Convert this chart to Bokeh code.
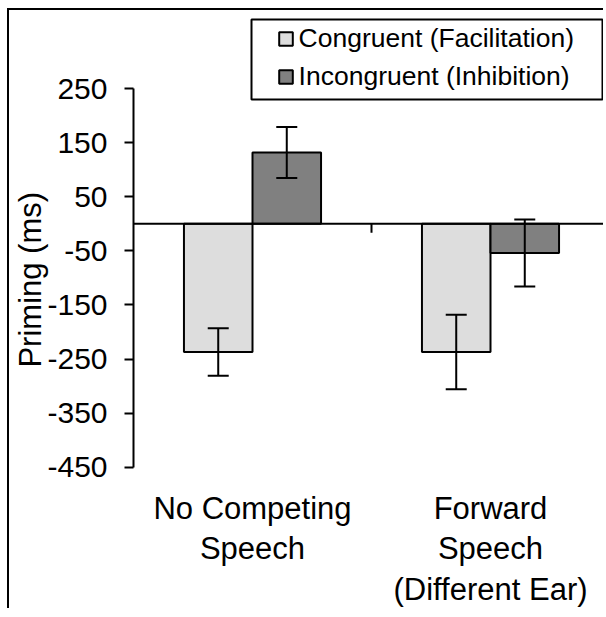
from bokeh.plotting import figure
from bokeh.models import (ColumnDataSource, FixedTicker, Span, Whisker, TeeHead,
                          Legend, LegendItem, BoxAnnotation, Range1d)
from bokeh.embed import file_html
from bokeh.resources import INLINE

# ---- data ----
categories = ["No Competing\nSpeech", "Forward\nSpeech\n(Different Ear)"]
series = ["Congruent (Facilitation)", "Incongruent (Inhibition)"]
congruent = [-237, -237]
congruent_err = [44, 69]
incongruent = [132, -54]
incongruent_err = [47, 62]
y_ticks = [-450, -350, -250, -150, -50, 50, 150, 250]
y_title = "Priming (ms)"

# ---- layout / style ----
FONT = "Liberation Sans"
W, H = 596, 600
BAR_W = 0.288
Y_START, Y_END = -457.9, 394.5
MB_LEFT, MB_BOTTOM, MB_RIGHT = 124, 138, 0
CAT_PX = 238
X_END = (W - MB_LEFT - MB_RIGHT) / CAT_PX
FRAME_H = H - MB_BOTTOM
PX_PER_UNIT = FRAME_H / (Y_END - Y_START)
# the axis title is centred on the axis extent (not on the whole frame)
TITLE_PAD = "\u00a0" * 9

centers = [i + 0.5 for i in range(len(categories))]
boundaries = list(range(1, len(categories)))


def src(vals, errs, offset):
    return ColumnDataSource(dict(
        x=[c + offset for c in centers],
        top=vals,
        upper=[v + e for v, e in zip(vals, errs)],
        lower=[v - e for v, e in zip(vals, errs)],
    ))


src_c = src(congruent, congruent_err, -BAR_W / 2)
src_i = src(incongruent, incongruent_err, BAR_W / 2)

p = figure(width=W, height=H, title=None,
           x_range=Range1d(0, X_END), y_range=Range1d(Y_START, Y_END),
           output_backend="svg", toolbar_location=None,
           min_border_left=MB_LEFT, min_border_right=MB_RIGHT,
           min_border_top=0, min_border_bottom=MB_BOTTOM)
p.styles = {"margin-left": "7px", "margin-top": "8px", "vertical-align": "top",
            "border-left": "2px solid black", "border-top": "2px solid black"}
p.background_fill_color = "white"
p.border_fill_color = "white"
p.outline_line_color = None
p.xgrid.grid_line_color = None
p.ygrid.grid_line_color = None

r_c = p.vbar(x="x", top="top", bottom=0, width=BAR_W, source=src_c,
             fill_color="#DDDDDD", line_color="black", line_width=2)
r_i = p.vbar(x="x", top="top", bottom=0, width=BAR_W, source=src_i,
             fill_color="#808080", line_color="black", line_width=2)

for s in (src_c, src_i):
    p.add_layout(Whisker(source=s, base="x", upper="upper", lower="lower",
                         line_width=2, line_color="black", level="overlay",
                         upper_head=TeeHead(size=21, line_width=2, line_color="black"),
                         lower_head=TeeHead(size=21, line_width=2, line_color="black")))

p.add_layout(Span(location=0, dimension="width", line_color="black", line_width=2))
tick_len = 9 / PX_PER_UNIT
p.segment(x0=boundaries, y0=[0] * len(boundaries), x1=boundaries,
          y1=[-tick_len] * len(boundaries), line_color="black", line_width=2)

# y axis
ya = p.yaxis[0]
ya.ticker = FixedTicker(ticks=y_ticks)
ya.major_label_overrides = {t: str(t) for t in y_ticks}
ya.bounds = (min(y_ticks), max(y_ticks))
ya.major_tick_out = 9
ya.major_tick_in = 0
ya.minor_tick_out = 0
ya.minor_tick_in = 0
ya.axis_line_width = 2
ya.major_tick_line_width = 2
ya.major_label_text_font = FONT
ya.major_label_text_font_size = "30px"
ya.major_label_text_color = "black"
ya.major_label_standoff = 17
ya.axis_label = y_title + TITLE_PAD
ya.axis_label_text_font = FONT
ya.axis_label_text_font_size = "31px"
ya.axis_label_text_font_style = "normal"
ya.axis_label_text_color = "black"
ya.axis_label_standoff = -4

# x axis (category labels)
xa = p.xaxis[0]
xa.ticker = FixedTicker(ticks=centers)
xa.major_label_overrides = {c: lab for c, lab in zip(centers, categories)}
xa.axis_line_color = None
xa.major_tick_line_color = None
xa.major_tick_out = 0
xa.major_tick_in = 0
xa.minor_tick_out = 0
xa.minor_tick_in = 0
xa.major_label_text_font = FONT
xa.major_label_text_font_size = "31px"
xa.major_label_text_color = "black"
xa.major_label_text_line_height = 1.17
xa.major_label_standoff = 19

# legend (its frame is drawn as a box in screen units)
legend = Legend(items=[LegendItem(label=series[0], renderers=[r_c]),
                       LegendItem(label=series[1], renderers=[r_i])],
                location=(143.6, 379.5), margin=0, padding=0, spacing=7,
                glyph_width=17, glyph_height=17, label_standoff=5,
                label_text_font=FONT, label_text_font_size="26.5px",
                label_text_color="black",
                border_line_color=None, background_fill_alpha=0)
p.add_layout(legend)
p.add_layout(BoxAnnotation(left=118, right=469, top=452, bottom=372,
                           left_units="screen", right_units="screen",
                           top_units="screen", bottom_units="screen",
                           fill_alpha=0, line_color="black", line_width=2,
                           line_alpha=1))

open("out.html", "w").write(file_html(p, INLINE))
